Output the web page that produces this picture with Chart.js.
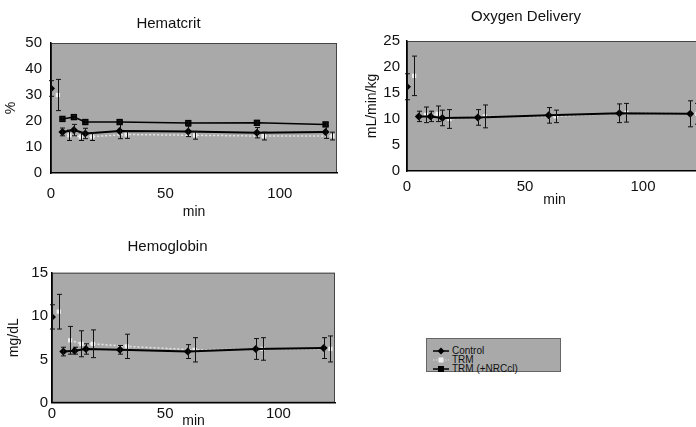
<!DOCTYPE html>
<html>
<head>
<meta charset="utf-8">
<script src="https://cdn.jsdelivr.net/npm/chart.js@4.4.1/dist/chart.umd.min.js"></script>
<style>
  html, body { margin: 0; padding: 0; width: 696px; height: 427px; overflow: hidden; background: #fff; }
  body { position: relative; font-family: "Liberation Sans", Arial, sans-serif; }
  canvas { position: absolute; }
  #legend {
    position: absolute; left: 426px; top: 338px; width: 133px; height: 32px;
    background: #a9a9a9; border: 1px solid #666; font-size: 10px; color: #111;
  }
  #legend .row { position: absolute; left: 6px; height: 9px; line-height: 9px; white-space: nowrap; display: flex; align-items: center; }
  #legend svg { display: block; margin-right: 3px; }
</style>
</head>
<body>
<canvas id="hct" width="345" height="221" style="left:0;top:0"></canvas>
<canvas id="o2" width="360" height="209" style="left:350px;top:0"></canvas>
<canvas id="hb" width="345" height="204" style="left:0;top:226px"></canvas>
<div id="legend">
  <div class="row" style="top:7px"><svg width="16" height="8"><line x1="0" y1="4" x2="16" y2="4" stroke="#000" stroke-width="1.5"/><path d="M8 0.5 L11.5 4 L8 7.5 L4.5 4 Z" fill="#000"/></svg>Control</div>
  <div class="row" style="top:16px"><svg width="16" height="8"><line x1="0" y1="4" x2="16" y2="4" stroke="#ddd" stroke-width="1.2" stroke-dasharray="1.5 1.5"/><rect x="5.5" y="1.5" width="5" height="5" fill="#eee"/></svg>TRM</div>
  <div class="row" style="top:25px"><svg width="16" height="8"><line x1="0" y1="4" x2="16" y2="4" stroke="#000" stroke-width="1.5"/><rect x="5" y="1" width="6" height="6" fill="#000"/></svg>TRM (+NRCcl)</div>
</div>
<script>
"use strict";

// Sampling times (min); the TRM series is plotted slightly to the right
const times = [0, 5, 10, 15, 30, 60, 90, 120];
const trmShift = 3;

// Hematocrit (%)
const hctControl = [32.5, 15.8, 16.5, 15.2, 16.2, 16.0, 15.5, 15.8];
const hctControlSd = [3.0, 1.5, 2.2, 2.0, 3.0, 2.0, 2.0, 2.5];
const hctTrm = [30.0, 14.5, 14.0, 14.0, 14.8, 14.5, 14.2, 14.2];
const hctTrmSd = [6.0, 2.0, 1.5, 1.5, 1.5, 1.5, 1.5, 1.5];
const hctNrc = [null, 20.8, 21.5, 19.6, 19.6, 19.2, 19.3, 18.7];
const hctNrcSd = [null, 0.6, 0.6, 0.6, 0.6, 0.6, 0.6, 0.6];

// Oxygen delivery (mL/min/kg)
const o2Control = [16.2, 10.5, 10.5, 10.2, 10.3, 10.7, 11.1, 11.0];
const o2ControlSd = [2.5, 1.0, 1.0, 1.5, 1.5, 1.5, 1.8, 2.5];
const o2Trm = [18.3, 10.8, 11.0, 10.0, 10.5, 10.5, 11.2, 11.0];
const o2TrmSd = [3.8, 1.5, 1.5, 1.8, 2.2, 1.2, 1.8, 2.0];

// Hemoglobin (mg/dL)
const hbControl = [9.9, 5.9, 6.0, 6.2, 6.1, 5.9, 6.2, 6.3];
const hbControlSd = [1.4, 0.5, 0.4, 0.6, 0.5, 0.8, 1.2, 1.2];
const hbTrm = [10.5, 7.2, 6.8, 6.8, 6.5, 6.1, 6.2, 6.2];
const hbTrmSd = [2.0, 1.6, 1.5, 1.6, 1.4, 1.4, 1.3, 1.5];

const xTicks = [0, 50, 100];

Chart.defaults.font.family = '"Liberation Sans", Arial, sans-serif';
Chart.defaults.color = "#111";

function points(values, shift) {
  return times.map((t, i) => ({ x: t + shift, y: values[i] }));
}

// baseline (t = 0) is not joined to the rest of the curve
const noBaselineLink = {
  borderColor: c => (c.p0DataIndex === 0 ? "rgba(0,0,0,0)" : undefined)
};

function controlSet(values, sd) {
  return {
    label: "Control", data: points(values, 0), sd: sd, order: 1,
    borderColor: "#000", backgroundColor: "#000", borderWidth: 2,
    pointStyle: "rectRot", pointRadius: 4, pointBorderWidth: 0,
    segment: noBaselineLink
  };
}

function trmSet(values, sd) {
  return {
    label: "TRM", data: points(values, trmShift), sd: sd, order: 3,
    borderColor: "#e4e4e4", backgroundColor: "#eeeeee", borderWidth: 1.5,
    borderDash: [2, 2], pointStyle: "rect", pointRadius: 3, pointBorderWidth: 0,
    segment: noBaselineLink
  };
}

function nrcSet(values, sd) {
  return {
    label: "TRM (+NRCcl)", data: points(values, 0), sd: sd, order: 2,
    borderColor: "#000", backgroundColor: "#000", borderWidth: 1.5,
    pointStyle: "rect", pointRadius: 4.5, pointBorderWidth: 0
  };
}

// Gray plot background with a thin frame
const plotBg = {
  id: "plotBg",
  beforeDraw(chart) {
    const { ctx, chartArea: a } = chart;
    ctx.save();
    ctx.fillStyle = "#a9a9a9";
    ctx.fillRect(a.left, a.top, a.right - a.left, a.bottom - a.top);
    ctx.strokeStyle = "#444";
    ctx.lineWidth = 1;
    ctx.strokeRect(a.left + 0.5, a.top + 0.5, a.right - a.left - 1, a.bottom - a.top - 1);
    ctx.restore();
  }
};

// Mean +/- SD whiskers
const errorBars = {
  id: "errorBars",
  afterDatasetsDraw(chart) {
    const ctx = chart.ctx;
    const ys = chart.scales.y;
    ctx.save();
    ctx.strokeStyle = "#111";
    ctx.lineWidth = 1;
    chart.data.datasets.forEach((ds, di) => {
      const meta = chart.getDatasetMeta(di);
      meta.data.forEach((pt, i) => {
        const v = ds.data[i].y;
        const s = ds.sd[i];
        if (v == null || s == null) return;
        const x = Math.round(pt.x) + 0.5;
        const top = ys.getPixelForValue(v + s);
        const bot = ys.getPixelForValue(v - s);
        ctx.beginPath();
        ctx.moveTo(x, top); ctx.lineTo(x, bot);
        ctx.moveTo(x - 2.5, top); ctx.lineTo(x + 2.5, top);
        ctx.moveTo(x - 2.5, bot); ctx.lineTo(x + 2.5, bot);
        ctx.stroke();
      });
    });
    ctx.restore();
  }
};

function makeChart(id, cfg) {
  return new Chart(document.getElementById(id), {
    type: "line",
    data: { datasets: cfg.datasets },
    plugins: [plotBg, errorBars],
    options: {
      responsive: false,
      animation: false,
      layout: { padding: { left: 0, right: cfg.padRight, top: 0, bottom: 0 } },
      plugins: {
        legend: { display: false },
        tooltip: { enabled: false },
        title: {
          display: true, text: cfg.title, color: "#111",
          font: { size: 15, weight: "normal" },
          padding: { top: cfg.titleTop - 0.6, bottom: cfg.titleBottom - 0.6 }
        }
      },
      scales: {
        x: {
          type: "linear", min: 0, max: 125,
          afterFit: s => { s.height = cfg.xHeight; },
          afterBuildTicks: s => { s.ticks = xTicks.map(v => ({ value: v })); },
          grid: { display: false, drawTicks: false },
          border: { color: "#000", width: 1.5 },
          ticks: { padding: cfg.xTickPad - 0.6, font: { size: 15 }, color: "#111" },
          title: { display: true, text: cfg.xTitle, font: { size: 14 }, padding: 0, color: "#111" }
        },
        y: {
          min: 0, max: cfg.yMax,
          afterFit: s => { s.width = cfg.yWidth; },
          grid: { display: false, drawTicks: false },
          border: { color: "#000", width: 1.5 },
          ticks: { stepSize: cfg.yStep, padding: cfg.yTickPad, font: { size: 15 }, color: "#111" },
          title: { display: true, text: cfg.yTitle, font: { size: 14 }, padding: { top: cfg.yTitlePad - 0.6, bottom: 0 }, color: "#111" }
        }
      }
    }
  });
}

makeChart("hct", {
  title: "Hematcrit", titleTop: 15.6, titleBottom: 10.6,
  datasets: [trmSet(hctTrm, hctTrmSd), nrcSet(hctNrc, hctNrcSd), controlSet(hctControl, hctControlSd)],
  yMax: 50, yStep: 10, yTitle: "%", yTitlePad: 3.6, yWidth: 51, yTickPad: 9,
  xTitle: "min", xHeight: 48, xTickPad: 12.6, padRight: 8
});

makeChart("o2", {
  title: "Oxygen Delivery", titleTop: 8.6, titleBottom: 15.6,
  datasets: [trmSet(o2Trm, o2TrmSd), controlSet(o2Control, o2ControlSd)],
  yMax: 25, yStep: 5, yTitle: "mL/min/kg", yTitlePad: 14.6, yWidth: 57, yTickPad: 7,
  xTitle: "min", xHeight: 38, xTickPad: 7.6, padRight: 8
});

makeChart("hb", {
  title: "Hemoglobin", titleTop: 12.3, titleBottom: 17.6,
  datasets: [trmSet(hbTrm, hbTrmSd), controlSet(hbControl, hbControlSd)],
  yMax: 15, yStep: 5, yTitle: "mg/dL", yTitlePad: 6.6, yWidth: 52, yTickPad: 4,
  xTitle: "min", xHeight: 27.3, xTickPad: 3, padRight: 10
});
</script>
</body>
</html>
